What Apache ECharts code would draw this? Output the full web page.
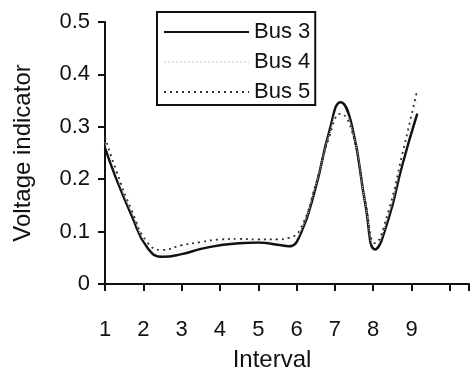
<!DOCTYPE html>
<html>
<head>
<meta charset="utf-8">
<script src="https://cdn.jsdelivr.net/npm/echarts@6/dist/echarts.min.js"></script>
<style>
  html, body { margin: 0; padding: 0; background: #fff; }
  #chart { width: 472px; height: 377px; }
</style>
</head>
<body>
<div id="chart"></div>
<script>
var intervals = [1, 1.3, 1.7, 2.1, 2.5, 3, 3.5, 4, 4.5, 5, 5.5, 5.8, 6.1, 6.5, 6.85, 7.15, 7.45, 7.8, 8.05, 8.4, 8.75, 9.15];
var bus3 = [0.26, 0.2, 0.13, 0.07, 0.052, 0.057, 0.067, 0.074, 0.078, 0.079, 0.075, 0.072, 0.095, 0.185, 0.29, 0.347, 0.3, 0.15, 0.066, 0.125, 0.225, 0.325];
var bus4 = [0.27, 0.207, 0.135, 0.075, 0.058, 0.065, 0.073, 0.08, 0.082, 0.082, 0.08, 0.08, 0.1, 0.188, 0.285, 0.335, 0.295, 0.152, 0.072, 0.132, 0.235, 0.35];
var bus5 = [0.28, 0.215, 0.14, 0.08, 0.065, 0.074, 0.08, 0.085, 0.086, 0.085, 0.085, 0.088, 0.105, 0.19, 0.28, 0.325, 0.29, 0.155, 0.078, 0.14, 0.245, 0.37];
var xTicks = ['1', '2', '3', '4', '5', '6', '7', '8', '9'];

function pairs(ys) {
  return intervals.map(function (x, i) { return [x, ys[i]]; });
}

var font = 'Liberation Sans, Arial, sans-serif';
var chart = echarts.init(document.getElementById('chart'));
var option = {
  backgroundColor: '#fff',
  animation: false,
  grid: { left: 105, top: 22, right: 2, bottom: 90 },
  legend: {
    orient: 'vertical',
    left: 157,
    top: 12,
    align: 'left',
    borderColor: '#111',
    borderWidth: 2,
    padding: [9, 5, 2, 6],
    itemWidth: 85,
    itemHeight: 10,
    itemGap: 8,
    itemStyle: { opacity: 0 },
    textStyle: { fontFamily: font, fontSize: 22, color: '#111' },
    data: ['Bus 3', 'Bus 4', 'Bus 5']
  },
  xAxis: {
    type: 'value',
    min: 1,
    max: 10.5,
    interval: 1,
    name: 'Interval',
    nameLocation: 'middle',
    nameGap: 64,
    nameTextStyle: { fontFamily: font, fontSize: 24, color: '#111', padding: [0, 30, 0, 0] },
    axisLine: { lineStyle: { color: '#111', width: 2 } },
    axisTick: { length: 7, lineStyle: { color: '#111', width: 2 } },
    axisLabel: {
      margin: 35,
      fontFamily: font, fontSize: 22, color: '#111',
      formatter: function (v) { return xTicks.indexOf(String(v)) >= 0 ? String(v) : ''; }
    },
    splitLine: { show: false }
  },
  yAxis: {
    type: 'value',
    min: 0,
    max: 0.5,
    interval: 0.1,
    name: 'Voltage indicator',
    nameLocation: 'middle',
    nameGap: 70,
    nameTextStyle: { fontFamily: font, fontSize: 24, color: '#111' },
    axisLine: { show: true, lineStyle: { color: '#111', width: 2 } },
    axisTick: { show: true, length: 7, lineStyle: { color: '#111', width: 2 } },
    axisLabel: {
      margin: 15,
      fontFamily: font, fontSize: 22, color: '#111',
      formatter: function (v) { return v === 0 ? '0' : v.toFixed(1); }
    },
    splitLine: { show: false }
  },
  series: [
    {
      name: 'Bus 3', type: 'line', smooth: true, symbol: 'none',
      data: pairs(bus3),
      lineStyle: { color: '#111', width: 2.5 },
      itemStyle: { color: '#111' }
    },
    {
      name: 'Bus 4', type: 'line', smooth: true, symbol: 'none',
      data: pairs(bus4),
      lineStyle: { color: '#e2e2e2', width: 1, type: 'dotted' },
      itemStyle: { color: '#e2e2e2' }
    },
    {
      name: 'Bus 5', type: 'line', smooth: true, symbol: 'none',
      data: pairs(bus5),
      lineStyle: { color: '#333', width: 1.8, type: [2, 4] },
      itemStyle: { color: '#333' }
    }
  ]
};
chart.setOption(option);
</script>
</body>
</html>
